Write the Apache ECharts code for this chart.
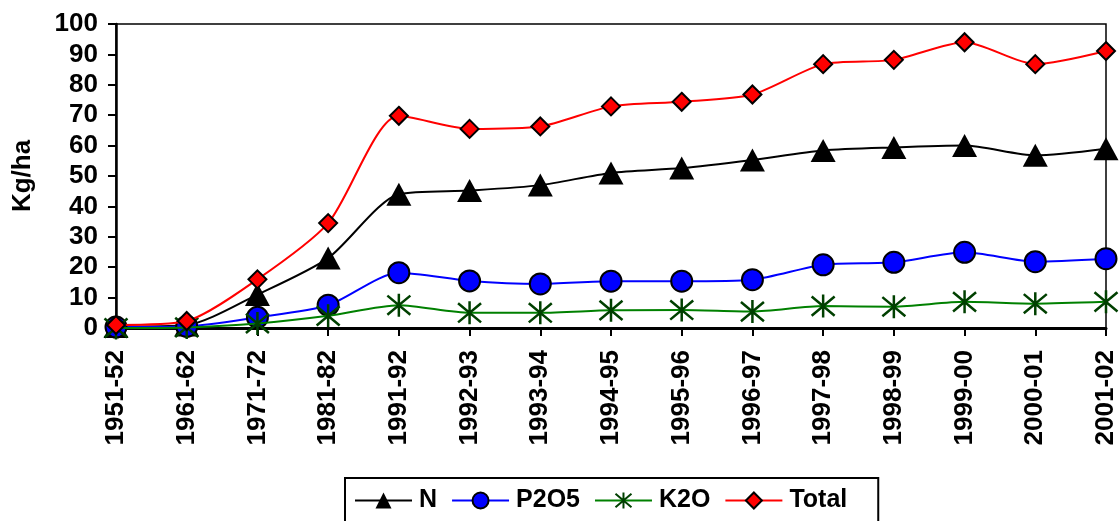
<!DOCTYPE html>
<html><head><meta charset="utf-8">
<script src="https://cdn.jsdelivr.net/npm/echarts@6/dist/echarts.min.js"></script>
<style>html,body{margin:0;padding:0;background:#fff}#c{width:1120px;height:521px}</style>
</head><body><div id="c"></div>
<script>
const categories = ['1951-52','1961-62','1971-72','1981-82','1991-92','1992-93','1993-94','1994-95','1995-96','1996-97','1997-98','1998-99','1999-00','2000-01','2001-02'];
const nValues = [0.5, 1, 11, 23, 44, 45.2, 47, 51, 52.6, 55.3, 58.4, 59.4, 60, 56.8, 59];
const p2o5Values = [0.3, 0.5, 3.5, 7.5, 18.2, 15.5, 14.5, 15.4, 15.4, 15.9, 20.8, 21.6, 24.9, 21.8, 22.8];
const k2oValues = [0, 0.2, 1.5, 4, 7.5, 5, 5, 5.8, 5.9, 5.4, 7.2, 7.0, 8.6, 8.0, 8.6];
const totalValues = [1, 2.3, 16, 34.5, 69.8, 65.5, 66.3, 72.9, 74.4, 76.8, 86.8, 88.2, 94, 86.8, 91.1];
const yTicks = [0,10,20,30,40,50,60,70,80,90,100];

const font = 'Liberation Sans, Arial, sans-serif';
const star = 'path://M0,0L20,20M20,0L0,20M10,-2L10,22';
const chart = echarts.init(document.getElementById('c'));
chart.setOption({
  animation: false,
  grid: {left: 116, right: 14, top: 24, bottom: 193, show: true, borderColor: '#000', borderWidth: 1.5},
  legend: {
    left: 345, top: 478,
    borderColor: '#000', borderWidth: 2, padding: [10, 31, 27, 9],
    itemWidth: 57, itemHeight: 20, itemGap: 14,
    textStyle: {fontFamily: font, fontSize: 25, fontWeight: 'bold', color: '#000', padding: [0, 0, 0, 2]},
    data: ['N','P2O5','K2O','Total']
  },
  xAxis: {
    type: 'category', data: categories, boundaryGap: false,
    axisLine: {lineStyle: {color: '#000', width: 3}},
    axisTick: {show: true, length: 8, lineStyle: {color: '#000', width: 2}},
    axisLabel: {rotate: 90, color: '#000', fontFamily: font, fontSize: 26, fontWeight: 'bold', margin: 22, interval: 0}
  },
  yAxis: {
    type: 'value', min: 0, max: 100, interval: 10,
    name: 'Kg/ha', nameLocation: 'middle', nameGap: 80, nameRotate: 90,
    nameTextStyle: {color: '#000', fontFamily: font, fontSize: 26, fontWeight: 'bold'},
    axisLine: {show: true, lineStyle: {color: '#000', width: 2.5}},
    axisTick: {show: true, length: 8, lineStyle: {color: '#000', width: 2}},
    splitLine: {show: false},
    axisLabel: {color: '#000', fontFamily: font, fontSize: 26, fontWeight: 'bold', margin: 18,
      formatter: v => yTicks.includes(v) ? String(v) : ''}
  },
  series: [
    {name: 'N', type: 'line', data: nValues, smooth: 0.25, z: 3,
     lineStyle: {color: '#000', width: 2}, symbol: 'triangle', symbolSize: [25, 23],
     itemStyle: {color: '#000', borderColor: '#000', borderWidth: 0}},
    {name: 'P2O5', type: 'line', data: p2o5Values, smooth: 0.25, z: 4,
     lineStyle: {color: '#0000ff', width: 2}, symbol: 'circle', symbolSize: 21,
     itemStyle: {color: '#0000ff', borderColor: '#000', borderWidth: 2}},
    {name: 'K2O', type: 'line', data: k2oValues, smooth: 0.25, z: 5,
     lineStyle: {color: '#008000', width: 2}, symbol: star, symbolSize: 23,
     itemStyle: {color: 'rgba(0,0,0,0)', borderColor: '#004000', borderWidth: 2.5}},
    {name: 'Total', type: 'line', data: totalValues, smooth: 0.25, z: 6,
     lineStyle: {color: '#ff0000', width: 2}, symbol: 'diamond', symbolSize: 18,
     itemStyle: {color: '#ff0000', borderColor: '#000', borderWidth: 2}}
  ]
});
</script></body></html>
